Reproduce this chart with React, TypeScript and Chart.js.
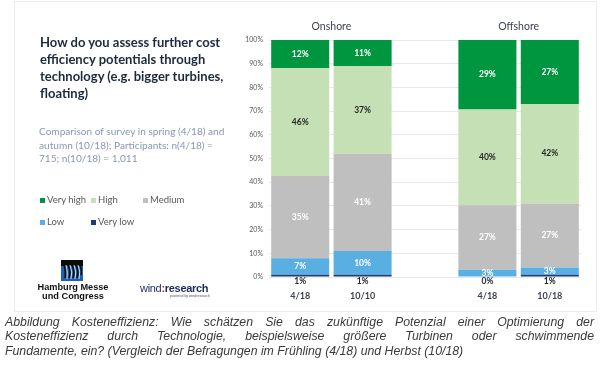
import React, { useEffect, useRef } from 'react';
import { Chart, registerables } from 'chart.js';

Chart.register(...registerables);

// ---------- data ----------
const categories = ['4/18', '10/10', '', '4/18', '10/18'];
const groupTitles = ['Onshore', 'Offshore'];
const groupCenters = [0.5, 3.5];
const seriesNames = ['Very high', 'High', 'Medium', 'Low', 'Very low'];
const veryHigh = [12, 11, null, 29, 27];
const high = [46, 37, null, 40, 42];
const medium = [35, 41, null, 27, 27];
const low = [7, 10, null, 3, 3];
const veryLow = [1, 1, null, 0, 1];
const yTickStep = 10;
const yMax = 100;

// ---------- styles ----------
const seriesColors = ['#00953f', '#c5e0b4', '#bfbfbf', '#5aafe2', '#1f3a7a'];
const labelColors = ['#ffffff', '#262626', '#ffffff', '#ffffff', '#262626'];

const allSeries = [veryHigh, high, medium, low, veryLow];

function columnSum(i: number) {
  let s = 0;
  allSeries.forEach((arr) => {
    if (arr[i] != null) s += arr[i] as number;
  });
  return s;
}

// 100% stacked: each column normalised to its own total
function normalised(arr: (number | null)[]) {
  return arr.map((v, i) => (v == null ? null : (v / columnSum(i)) * 100));
}

const FONT = 'Lato, "Open Sans", sans-serif';

const labelPlugin = {
  id: 'segLabels',
  afterDatasetsDraw(chart: any) {
    const ctx = chart.ctx;
    const area = chart.chartArea;
    ctx.save();
    ctx.textAlign = 'center';
    ctx.textBaseline = 'middle';
    ctx.font = 'bold 8.5px ' + FONT;
    chart.data.datasets.forEach((ds: any, d: number) => {
      const meta = chart.getDatasetMeta(d);
      meta.data.forEach((el: any, i: number) => {
        const raw = ds.rawValues[i];
        if (raw == null) return;
        const txt = raw + '%';
        let y;
        if (ds.label === 'Very low') {
          y = area.bottom + 4.5;
        } else {
          y = (el.y + el.base) / 2;
        }
        ctx.fillStyle = ds.labelColor;
        ctx.fillText(txt, el.x, y);
      });
    });
    const xs = chart.scales.x;
    ctx.font = '10.5px ' + FONT;
    ctx.fillStyle = '#3d4250';
    groupTitles.forEach((t, k) => {
      ctx.fillText(t, xs.getPixelForValue(groupCenters[k]), area.top - 13);
    });
    ctx.restore();
  },
};

function ChartCanvas() {
  const ref = useRef<HTMLCanvasElement>(null);
  useEffect(() => {
    if (!ref.current) return;
    const order = [4, 3, 2, 1, 0]; // bottom to top: Very low ... Very high
    const datasets = order.map((k) => ({
      label: seriesNames[k],
      data: normalised(allSeries[k]),
      rawValues: allSeries[k],
      labelColor: labelColors[k],
      backgroundColor: seriesColors[k],
      borderWidth: 0,
      barPercentage: 0.93,
      categoryPercentage: 1.0,
    }));
    const chart = new Chart(ref.current, {
      type: 'bar',
      data: { labels: categories, datasets: datasets as any },
      plugins: [labelPlugin],
      options: {
        animation: false,
        responsive: false,
        maintainAspectRatio: false,
        layout: { padding: { left: 239, right: 19, top: 40, bottom: 0 } },
        plugins: { legend: { display: false }, tooltip: { enabled: false } },
        scales: {
          x: {
            stacked: true,
            grid: { display: false, drawTicks: false },
            border: { display: false },
            ticks: {
              padding: 14,
              color: '#3d4250',
              font: { family: FONT, size: 9, weight: 'bold' },
            },
            afterFit: (s: any) => {
              s.height = 43;
            },
          },
          y: {
            stacked: true,
            min: 0,
            max: yMax,
            grid: { color: '#e8e8e8', drawTicks: false, lineWidth: 1 },
            border: { display: false },
            ticks: {
              stepSize: yTickStep,
              padding: 6,
              color: '#595959',
              font: { family: FONT, size: 7 },
              callback: (v: any) => v + '%',
            },
            afterFit: (s: any) => {
              s.width = 30;
            },
          },
        },
      } as any,
    });
    return () => chart.destroy();
  }, []);
  return (
    <canvas
      ref={ref}
      width={600}
      height={320}
      style={{ position: 'absolute', left: 0, top: 0, width: 600, height: 320 }}
    />
  );
}

function LegendItem({ idx, left, top }: { idx: number; left: number; top: number }) {
  return (
    <div
      style={{
        position: 'absolute',
        left,
        top,
        display: 'flex',
        alignItems: 'center',
        fontFamily: FONT,
        fontSize: 9.5,
        color: '#595959',
        whiteSpace: 'nowrap',
        lineHeight: '12px',
      }}
    >
      <span
        style={{
          display: 'inline-block',
          width: 5,
          height: 5,
          background: seriesColors[idx],
          marginRight: 2,
        }}
      />
      {seriesNames[idx]}
    </div>
  );
}

export default function App() {
  const captionStyle: React.CSSProperties = {
    textAlign: 'justify',
    textAlignLast: 'justify' as any,
    whiteSpace: 'nowrap',
    height: 14.3,
    lineHeight: '14.3px',
  };
  return (
    <div
      style={{
        position: 'absolute',
        left: 0,
        top: 0,
        width: 600,
        height: 373,
        background: '#ffffff',
        overflow: 'hidden',
      }}
    >
      <div
        style={{
          position: 'absolute',
          left: 14,
          top: 1,
          width: 581,
          height: 309,
          border: '1px solid #ececec',
        }}
      />
      <ChartCanvas />
      <div
        style={{
          position: 'absolute',
          left: 40,
          top: 34,
          fontFamily: FONT,
          fontWeight: 'bold',
          fontSize: 13,
          lineHeight: '17px',
          color: '#1d2a3c',
          whiteSpace: 'nowrap',
        }}
      >
        How do you assess further cost
        <br />
        efficiency potentials through
        <br />
        technology (e.g. bigger turbines,
        <br />
        floating)
      </div>
      <div
        style={{
          position: 'absolute',
          left: 39,
          top: 125,
          fontFamily: FONT,
          fontSize: 10.1,
          lineHeight: '13.5px',
          color: '#8798b3',
          whiteSpace: 'nowrap',
        }}
      >
        Comparison of survey in spring (4/18) and
        <br />
        autumn (10/18); Participants: n(4/18) =
        <br />
        715; n(10/18) = 1,011
      </div>
      <LegendItem idx={0} left={40} top={194} />
      <LegendItem idx={1} left={91} top={194} />
      <LegendItem idx={2} left={143} top={194} />
      <LegendItem idx={3} left={40} top={216} />
      <LegendItem idx={4} left={91} top={216} />

      {/* Hamburg Messe logo */}
      <svg
        style={{ position: 'absolute', left: 61, top: 260 }}
        width={22}
        height={21}
        viewBox="0 0 22 21"
      >
        <rect x={0} y={0} width={22} height={21} fill="#1f5fb0" />
        <rect x={0} y={0} width={22} height={6} fill="#0c0c0c" />
        <path d="M3 4 Q5 12 4 18 M7 4 Q10 12 8 18 M11 4 Q14 12 12 18 M15 4 Q18 12 16 18 M19 4 Q21 10 20 15" stroke="#0c0c0c" strokeWidth={1.6} fill="none" />
        <path d="M5 5 Q7 12 6 19 M9 5 Q12 12 10 19 M13 5 Q16 12 14 19 M17 5 Q20 12 18 19" stroke="#ffffff" strokeWidth={0.8} fill="none" />
      </svg>
      <div
        style={{
          position: 'absolute',
          left: 27,
          width: 92,
          top: 283,
          textAlign: 'center',
          fontFamily: 'Arial, "Liberation Sans", sans-serif',
          fontWeight: 'bold',
          fontSize: 9.2,
          lineHeight: '9px',
          color: '#111111',
        }}
      >
        Hamburg Messe
        <br />
        und Congress
      </div>
      {/* windresearch logo */}
      <div
        style={{
          position: 'absolute',
          left: 140,
          top: 282,
          fontFamily: 'Arial, "Liberation Sans", sans-serif',
          fontSize: 11,
          lineHeight: '12px',
          color: '#1e2b5e',
          whiteSpace: 'nowrap',
          letterSpacing: -0.3,
        }}
      >
        wind<span style={{ color: '#d0202a', fontWeight: 'bold' }}>:</span>
        <span style={{ fontWeight: 'bold' }}>research</span>
      </div>
      <div
        style={{
          position: 'absolute',
          left: 170,
          top: 294,
          fontFamily: 'Arial, "Liberation Sans", sans-serif',
          fontSize: 3.5,
          lineHeight: '4px',
          color: '#555',
          whiteSpace: 'nowrap',
        }}
      >
        powered by windresearch
      </div>

      {/* caption */}
      <div
        style={{
          position: 'absolute',
          left: 5,
          top: 315,
          width: 589,
          fontFamily: 'Arial, "Liberation Sans", sans-serif',
          fontStyle: 'italic',
          fontSize: 12.3,
          color: '#3a3a3a',
        }}
      >
        <div style={captionStyle}>
          Abbildung Kosteneffizienz: Wie schätzen Sie das zukünftige Potenzial einer Optimierung der
        </div>
        <div style={captionStyle}>
          Kosteneffizienz durch Technologie, beispielsweise größere Turbinen oder schwimmende
        </div>
        <div style={{ ...captionStyle, textAlign: 'left', textAlignLast: 'left' as any }}>
          Fundamente, ein? (Vergleich der Befragungen im Frühling (4/18) und Herbst (10/18)
        </div>
      </div>
    </div>
  );
}
